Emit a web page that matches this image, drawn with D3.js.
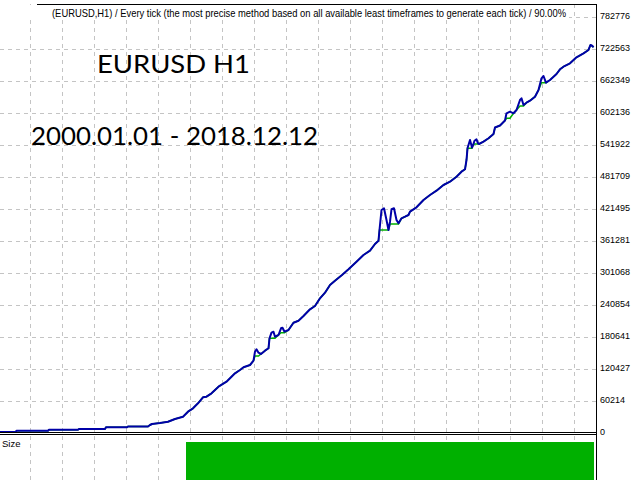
<!DOCTYPE html>
<html><head><meta charset="utf-8">
<script src="https://cdn.jsdelivr.net/npm/d3@7"></script>
<style>html,body{margin:0;padding:0;background:#fff;overflow:hidden}</style>
</head><body><svg id="c" width="640" height="480"></svg>
<script>
// ---- data ----
const trades = [0,32,33,96,98,156,158,210,212,254,256,296,300,304,320,336,350,366,376,386,396,406,413,423,437,453,460,470,480,487,500,507,510,513,517,522,530,537,539,543,547,550,557,562,565,569,577,587,597,607,620,630,640,650,660,670,684,697,713,727,740,750,757,759,763,768,773,777,780,783,788,793,797,803,810,817,820,833,847,860,873,887,900,913,923,930,933,935,940,944,946,949,953,956,958,967,977,987,990,1000,1010,1013,1020,1027,1033,1040,1043,1047,1053,1060,1070,1077,1083,1087,1092,1100,1113,1120,1127,1140,1153,1167,1177,1181,1185,1187];
const balance = [1882,1882,4328,4328,6210,6210,7527,7527,10726,10726,12231,12231,15054,16935,18817,21263,26344,30672,40080,46478,55886,67176,68305,74703,87122,96531,102929,112337,118546,123627,127955,136046,152981,157497,151100,148654,154863,159380,178196,188734,190616,181207,184406,197013,198142,190616,193815,207551,211315,220158,232766,238975,253464,264001,278490,286581,297307,308034,322335,334941,343033,355639,361849,381983,419617,422816,400800,381983,397601,420936,422816,400800,394590,404000,407010,410208,416418,424697,438434,447842,455933,466659,472868,482277,491685,496201,513702,535718,551335,537000,541500,550018,552652,545000,543808,548136,554534,562626,574858,578621,588029,601578,604589,601578,607786,626603,629802,617195,621523,625287,632813,645420,667436,671763,659155,664235,675527,684370,689266,695663,706954,714480,720689,730098,728216,725770];
const equity = [1882,1882,4328,4328,6210,6210,7527,7527,10726,10726,12231,12231,15054,16935,18817,21263,26344,30672,40080,46478,55886,67176,68305,74703,87122,96531,102929,112337,118546,123627,127955,136046,144891,144891,144891,148654,154863,159380,178196,178196,178196,178196,184406,188734,188734,188734,193815,207551,211315,220158,232766,238975,253464,264001,278490,286581,297307,308034,322335,334941,343033,355639,361849,381983,381983,381983,381983,381983,393271,393271,393271,393271,393271,404000,407010,410208,416418,424697,438434,447842,455933,466659,472868,482277,491685,496201,513702,535718,535718,535718,541500,543808,543808,543808,543808,548136,554534,562626,574858,578621,588029,592173,592173,601578,607786,615313,615313,615313,621523,625287,632813,645420,659155,659155,659155,664235,675527,684370,689266,695663,706954,714480,720689,730098,728216,725770];
const tickValues = [0,60214,120427,180641,240854,301068,361281,421495,481709,541922,602136,662349,722563,782776];
const tickLabels = ["0","60214","120427","180641","240854","301068","361281","421495","481709","541922","602136","662349","722563","782776"];
const sizeFrom = [372];
const sizeTo = [1188];
const sizeLots = [1.0];
const headerText = "(EURUSD,H1) / Every tick (the most precise method based on all available least timeframes to generate each tick) / 90.00%";
const titleText = "EURUSD H1";
const periodText = "2000.01.01 - 2018.12.12";

// ---- drawing ----
const svg = d3.select("#c");
const x = d3.scaleLinear().domain([0, 1192]).range([0, 596]);
const y = d3.scaleLinear().domain([0, 782776]).range([433, 17]);
const ys = d3.scaleLinear().domain([0, 1.0]).range([481, 442]);
const gridColor = "#c4c4c4";

// vertical grid
const gridTrades = d3.range(61, 1192, 64);
svg.append("g").selectAll("line").data(gridTrades).join("line")
  .attr("x1", d => x(d)).attr("x2", d => x(d))
  .attr("y1", 4).attr("y2", 480)
  .attr("stroke", gridColor).attr("stroke-width", 1).attr("stroke-dasharray", "4,4");
// horizontal grid
svg.append("g").selectAll("line").data(tickValues.slice(1)).join("line")
  .attr("x1", 0).attr("x2", 596)
  .attr("y1", d => Math.round(y(d)) + 0.5).attr("y2", d => Math.round(y(d)) + 0.5)
  .attr("stroke", gridColor).attr("stroke-width", 1).attr("stroke-dasharray", "4,4");

// header background + text
svg.append("rect").attr("x", 0).attr("y", 5).attr("width", 569).attr("height", 15).attr("fill", "#fff");
svg.append("text").attr("x", 52).attr("y", 17)
  .attr("font-family", "Liberation Sans, Arial, sans-serif").attr("font-size", 11)
  .attr("textLength", 514).attr("lengthAdjust", "spacingAndGlyphs")
  .attr("fill", "#000").text(headerText);

// titles
svg.append("text").attr("x", 97).attr("y", 73)
  .attr("font-family", "Lato, sans-serif").attr("font-size", 25)
  .attr("textLength", 153).attr("lengthAdjust", "spacingAndGlyphs")
  .attr("fill", "#000").text(titleText);
svg.append("text").attr("x", 31).attr("y", 145)
  .attr("font-family", "Lato, sans-serif").attr("font-size", 25)
  .attr("textLength", 287).attr("lengthAdjust", "spacingAndGlyphs")
  .attr("fill", "#000").text(periodText);

// size panel bars
svg.append("g").selectAll("rect").data(sizeLots).join("rect")
  .attr("x", (d, i) => x(sizeFrom[i]))
  .attr("width", (d, i) => x(sizeTo[i]) - x(sizeFrom[i]))
  .attr("y", d => ys(d)).attr("height", d => ys(0) - ys(d))
  .attr("fill", "#00b000");
svg.append("text").attr("x", 2).attr("y", 447)
  .attr("font-family", "Liberation Sans, Arial, sans-serif").attr("font-size", 9.5)
  .attr("fill", "#000").text("Size");

// lines
const pts = trades.map((t, i) => ({t, b: balance[i], e: equity[i]}));
svg.append("path").datum(pts)
  .attr("d", d3.line().x(d => x(d.t)).y(d => y(d.e)))
  .attr("fill", "none").attr("stroke", "#00b000").attr("stroke-width", 1.5);
svg.append("path").datum(pts)
  .attr("d", d3.line().x(d => x(d.t)).y(d => y(d.b)))
  .attr("fill", "none").attr("stroke", "#0000a8").attr("stroke-width", 2)
  .attr("stroke-linejoin", "round");

// frame
svg.append("line").attr("x1", 37).attr("x2", 597).attr("y1", 4.5).attr("y2", 4.5).attr("stroke", "#000");
svg.append("line").attr("x1", 596.5).attr("x2", 596.5).attr("y1", 4).attr("y2", 480).attr("stroke", "#000");
svg.append("line").attr("x1", 0).attr("x2", 597).attr("y1", 432.5).attr("y2", 432.5).attr("stroke", "#000");
svg.append("line").attr("x1", 0).attr("x2", 597).attr("y1", 434.5).attr("y2", 434.5).attr("stroke", "#000");

// right axis labels
svg.append("g").selectAll("text").data(tickValues).join("text")
  .attr("x", 600).attr("y", d => y(d))
  .attr("dominant-baseline", "middle")
  .attr("font-family", "Liberation Sans, Arial, sans-serif").attr("font-size", 9)
  .attr("fill", "#000").text((d, i) => tickLabels[i]);
</script></body></html>
